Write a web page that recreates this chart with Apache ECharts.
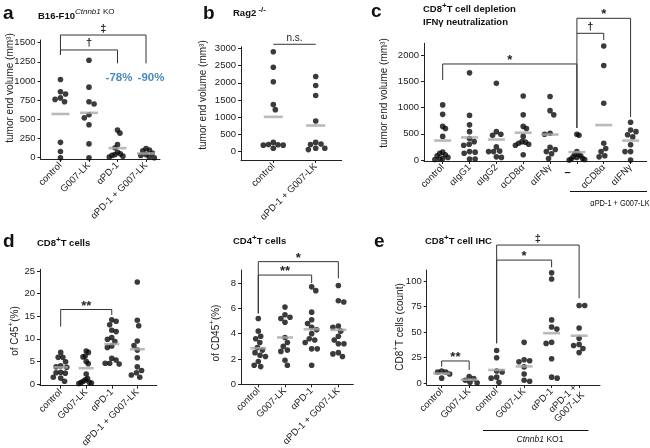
<!DOCTYPE html>
<html><head><meta charset="utf-8">
<script src="https://cdn.jsdelivr.net/npm/echarts@6/dist/echarts.min.js"></script>
<style>html,body{margin:0;padding:0;background:#fff}#c{width:650px;height:448px}</style>
</head><body><div id="c"></div>
<script>
// ================= DATA =================
// Panel a
const aCategories = ['control', 'G007-LK', 'αPD-1', 'αPD-1 + G007-LK'];
const aTicks = [0, 250, 500, 750, 1000, 1250, 1500];
const aControl = [1020, 860, 830, 780, 760, 730, 200, 80, 0];
const aG007 = [1270, 920, 730, 700, 560, 520, 430, 180, 0];
const aPD1 = [360, 320, 170, 130, 70, 50, 40, 30, 20, 10];
const aCombo = [120, 100, 90, 60, 40, 30, 10, 0];
const aMeans = [570, 585, 125, 55];
const aBrackets = [[0, 3, 1600, 1340, 1230], [0, 2, 1405, 1340, 1230]];
const aBracketLabels = ['‡', '†'];

// Panel b
const bCategories = ['control', 'αPD-1 + G007-LK'];
const bTicks = [0, 500, 1000, 1500, 2000, 2500, 3000];
const bControl = [2900, 2450, 2030, 1370, 1220, 270, 210, 200, 190, 190, 100];
const bCombo = [2180, 1920, 1630, 890, 270, 220, 210, 100, 100, 60];
const bMeans = [1010, 760];
const bBrackets = [[0, 1, 3116, 3116, 3116]];
const bBracketLabels = ['n.s.'];

// Panel c
const cCategories = ['control', 'αIgG1', 'αIgG2', 'αCD8α', 'αIFNγ', '–', 'αCD8α', 'αIFNγ'];
const cTicks = [0, 500, 1000, 1500, 2000];
const cControl = [1050, 870, 640, 600, 450, 150, 130, 100, 80, 50, 30, 20, 10];
const cIgG1 = [1660, 850, 670, 540, 410, 350, 300, 280, 160, 150, 130, 20, 20];
const cIgG2 = [1460, 540, 490, 470, 250, 170, 160, 160, 60, 50];
const cCD8 = [1220, 860, 640, 600, 450, 350, 340, 320, 300, 280, 100];
const cIFN = [1210, 940, 860, 510, 490, 240, 200, 160, 120, 30];
const cCombo = [490, 470, 160, 120, 100, 80, 60, 50, 30, 20, 10, 0];
const cComboCD8 = [2170, 1800, 1080, 320, 220, 160, 80, 60];
const cComboIFN = [720, 570, 540, 480, 440, 290, 160, 160, 0];
const cMeans = [370, 430, 390, 520, 485, 150, 665, 370];
const cBrackets = [[0, 5, 1829, 1524, 610], [5, 6, 2413, 2413, 2286], [5, 7, 2699, 610, 819]];
const cBracketLabels = ['*', '†', '*'];

// Panel d (CD8+)
const dCategories = ['control', 'G007-LK', 'αPD-1', 'αPD-1 + G007-LK'];
const dTicks = [0, 5, 10, 15, 20, 25];
const dControl = [7.0, 5.9, 5.9, 4.9, 4.0, 3.8, 3.7, 2.6, 2.5, 2.4, 1.5, 1.3, 0.6];
const dG007 = [7.3, 7.0, 6.2, 6.0, 5.0, 4.5, 2.2, 1.2, 0.9, 0.6, 0.4, 0.3, 0.2, 0.1];
const dPD1 = [14.2, 13.9, 13.1, 11.9, 11.6, 10.3, 9.9, 9.4, 8.4, 8.1, 5.7, 5.3, 4.6, 4.6, 4.4];
const dCombo = [22.6, 14.1, 12.9, 9.5, 8.5, 7.5, 5.8, 3.8, 3.0, 2.5, 2.0, 1.5];
const dMeans = [3.7, 3.5, 8.85, 7.7];
const dBrackets = [[0, 2, 16.5, 12.7, 15.3]];
const dBracketLabels = ['**'];

// Panel d (CD4+)
const d2Categories = ['control', 'G007-LK', 'αPD-1', 'αPD-1 + G007-LK'];
const d2Ticks = [0, 2, 4, 6, 8];
const d2Control = [5.2, 4.2, 3.8, 3.6, 3.3, 2.9, 2.7, 2.5, 2.3, 2.2, 1.8, 1.5, 1.4];
const d2G007 = [6.1, 5.5, 5.3, 5.2, 4.9, 3.7, 3.3, 3.0, 2.7, 2.6, 1.9, 1.5];
const d2PD1 = [7.7, 7.4, 5.7, 5.1, 4.8, 4.5, 4.3, 4.0, 3.6, 3.5, 3.3, 2.8, 2.8, 1.5];
const d2Combo = [7.8, 6.6, 6.5, 4.6, 4.5, 4.2, 3.8, 3.5, 3.2, 3.2, 2.5, 2.4, 2.2];
const d2Means = [2.85, 3.7, 4.35, 4.3];
const d2Brackets = [[0, 3, 9.69, 5.6, 8.37], [0, 2, 8.63, 5.6, 7.98]];
const d2BracketLabels = ['*', '**'];

// Panel e
const eCategories = ['control', 'G007-LK', 'control', 'G007-LK', 'αPD-1', 'αPD-1 +\nG007-LK'];
const eTicks = [0, 25, 50, 75, 100];
const eControl1 = [12, 11, 11, 9, 5];
const eG0071 = [6.5, 4.5, 3, 1, 0.5];
const eControl2 = [32, 25, 12, 11, 6, 5, 1];
const eG0072 = [40, 23, 22, 21, 16, 9, 3, 2];
const ePD1 = [108, 102, 62, 55, 53, 40, 39, 24, 5, 6];
const eCombo = [76, 76, 54, 44, 38, 37, 34, 30];
const eMeans = [9.5, 3.5, 13, 16.5, 49, 46.5];
const eBrackets = [[0, 1, 21.8, 16.2, 13], [2, 4, 120.5, 39.1, 113.4], [2, 5, 135.2, 39.1, 83.1]];
const eBracketLabels = ['**', '*', '‡'];

// ================= LAYOUT =================
const F = "'Liberation Sans', Arial, Helvetica, sans-serif";
const panels = [
  {cats: aCategories, groups: [aControl, aG007, aPD1, aCombo], means: aMeans, ticks: aTicks,
   br: aBrackets, brl: aBracketLabels, grid: {left: 40.5, top: 40, width: 119.5, height: 119},
   xr: [-0.70, 3.49], yr: [-17, 1535], mw: 18},
  {cats: bCategories, groups: [bControl, bCombo], means: bMeans, ticks: bTicks,
   br: bBrackets, brl: bBracketLabels, grid: {left: 241, top: 46.7, width: 100.7, height: 113.3},
   xr: [-0.762, 1.613], yr: [-241, 3046], mw: 19},
  {cats: cCategories, groups: [cControl, cIgG1, cIgG2, cCD8, cIFN, cCombo, cComboCD8, cComboIFN], means: cMeans, ticks: cTicks,
   br: cBrackets, brl: cBracketLabels, grid: {left: 424, top: 43.3, width: 222.7, height: 117.7},
   xr: [-0.696, 7.6], yr: [-19, 2223], mw: 17},
  {cats: dCategories, groups: [dControl, dG007, dPD1, dCombo], means: dMeans, ticks: dTicks,
   br: dBrackets, brl: dBracketLabels, grid: {left: 40, top: 269.3, width: 116.7, height: 116.4},
   xr: [-0.81, 3.76], yr: [-0.38, 25.4], mw: 15},
  {cats: d2Categories, groups: [d2Control, d2G007, d2PD1, d2Combo], means: d2Means, ticks: d2Ticks,
   br: d2Brackets, brl: d2BracketLabels, grid: {left: 241, top: 270, width: 112.3, height: 114.3},
   xr: [-0.648, 3.56], yr: [0, 9.03], mw: 16},
  {cats: eCategories, groups: [eControl1, eG0071, eControl2, eG0072, ePD1, eCombo], means: eMeans, ticks: eTicks,
   br: eBrackets, brl: eBracketLabels, grid: {left: 426.7, top: 270, width: 173.3, height: 115},
   xr: [-0.545, 5.76], yr: [-1.7, 110.8], mw: 17}
];

const AX = '#222';
const grids = [], xAxes = [], yAxes = [], series = [];
panels.forEach((p, k) => {
  grids.push(Object.assign({containLabel: false, outerBoundsMode: 'none'}, p.grid));
  const idx = p.cats.map((c, i) => i);
  xAxes.push({
    type: 'value', gridIndex: k, min: p.xr[0], max: p.xr[1],
    axisLine: {show: true, onZero: false, lineStyle: {color: AX, width: 1}},
    axisTick: {show: true, length: 3, customValues: idx, lineStyle: {color: AX, width: 1}},
    axisLabel: {show: true, customValues: idx, rotate: 45, margin: 5, fontSize: 9.5, fontFamily: F, color: '#222', lineHeight: 10.5,
      formatter: v => { const s = p.cats[Math.round(v)]; return s === '–' ? '' : s; }},
    splitLine: {show: false}
  });
  yAxes.push({
    type: 'value', gridIndex: k, min: p.yr[0], max: p.yr[1],
    axisLine: {show: true, onZero: false, lineStyle: {color: AX, width: 1}},
    axisTick: {show: true, length: 3, customValues: p.ticks, lineStyle: {color: AX, width: 1}},
    axisLabel: {show: true, customValues: p.ticks, margin: 5, fontSize: 9.5, fontFamily: F, color: '#222',
      formatter: v => String(v)},
    splitLine: {show: false}
  });
  const dots = [];
  p.groups.forEach((g, i) => g.forEach(v => dots.push({value: [i, v], symbolOffset: [0, 0]})));
  series.push({id: 'dots' + k, type: 'scatter', xAxisIndex: k, yAxisIndex: k, symbolSize: 5.6,
    itemStyle: {color: '#0a0a0a'}, data: dots, z: 3, silent: true});
  series.push({type: 'scatter', xAxisIndex: k, yAxisIndex: k, symbol: 'rect', symbolSize: [p.mw, 2.6],
    itemStyle: {color: '#a9a9a9'}, data: p.means.map((m, i) => [i, m]), z: 4, silent: true});
  series.push({type: 'custom', xAxisIndex: k, yAxisIndex: k, clip: false, silent: true, z: 5,
    data: p.br,
    renderItem: (params, api) => {
      const x1 = api.value(0), x2 = api.value(1), yt = api.value(2), yl = api.value(3), yr = api.value(4);
      const A = api.coord([x1, yl]), B = api.coord([x1, yt]), C = api.coord([x2, yt]), D = api.coord([x2, yr]);
      const lab = p.brl[params.dataIndex];
      const star = lab.indexOf('*') >= 0;
      const ns = lab === 'n.s.';
      return {type: 'group', children: [
        {type: 'polyline', shape: {points: [A, B, C, D]}, style: {stroke: '#333', lineWidth: 1, fill: null}},
        {type: 'text', x: (B[0] + C[0]) / 2, y: star ? B[1] + 3 : B[1] - 1,
         style: {text: lab, align: 'center', verticalAlign: 'bottom',
                 font: (ns ? '' : 'bold ') + (star ? 13 : ns ? 10 : 11) + 'px ' + F, fill: '#222'}}
      ]};
    }
  });
});

// ================= ANNOTATION TEXT =================
const sup = (fs) => ({font: fs + 'px ' + F, lineHeight: 8, verticalAlign: 'top'});
function rt(x, y, text, rich, extra) {
  return Object.assign({type: 'text', x: x, y: y, silent: true,
    style: {text: text, rich: rich, align: 'left', verticalAlign: 'middle', fill: '#111'}}, extra || {});
}
function letter(x, y, t) {
  return {type: 'text', x: x, y: y, silent: true, style: {text: t, font: 'bold 19px ' + F, fill: '#111', verticalAlign: 'middle'}};
}
const baseB = {font: 'bold 9.5px ' + F, lineHeight: 16};
const yNameRich = {n: {font: '10px ' + F, lineHeight: 16}, s: sup(8)};
function yName(x, y, text) {
  return {type: 'text', x: x, y: y, rotation: Math.PI / 2, silent: true,
    style: {text: text, rich: yNameRich, align: 'center', verticalAlign: 'middle', fill: '#222'}};
}
const graphics = [
  letter(3, 14, 'a'), letter(203, 13.4, 'b'), letter(371, 11.7, 'c'), letter(3, 241.7, 'd'), letter(374, 241.7, 'e'),
  rt(38, 16, '{b|B16-F10}{i|Ctnnb1}{s| KO}', {b: baseB, i: Object.assign(sup(8), {font: 'italic 8px ' + F}), s: sup(8)}),
  rt(233, 13.4, '{b|Rag2}{s| -/-}', {b: baseB, s: Object.assign(sup(8), {font: 'bold 8px ' + F})}),
  rt(423, 9.4, '{b|CD8}{s|+}{b|T cell depletion}', {b: baseB, s: Object.assign(sup(8), {font: 'bold 8px ' + F})}),
  rt(423, 22.7, '{b|IFNγ neutralization}', {b: baseB}),
  rt(37, 243.4, '{b|CD8}{s|+}{b|T cells}', {b: baseB, s: Object.assign(sup(8), {font: 'bold 8px ' + F})}),
  rt(233, 241.7, '{b|CD4}{s|+}{b|T cells}', {b: baseB, s: Object.assign(sup(8), {font: 'bold 8px ' + F})}),
  rt(425, 241.7, '{b|CD8}{s|+}{b|T cell IHC}', {b: baseB, s: Object.assign(sup(8), {font: 'bold 8px ' + F})}),
  yName(10, 88, '{n|tumor end volume (mm³)}'),
  yName(203, 95, '{n|tumor end volume (mm³)}'),
  yName(384, 93, '{n|tumor end volume (mm³)}'),
  yName(15, 331, '{n|of C45}{s|+}{n|(%)}'),
  yName(216, 333, '{n|of CD45}{s|+}{n|(%)}'),
  yName(400, 327, '{n|CD8}{s|+}{n|T cells (count)}'),
  {type: 'text', x: 119, y: 78, silent: true, style: {text: '-78%', font: 'bold 11.5px ' + F, fill: '#4a8bc0', align: 'center', verticalAlign: 'middle'}},
  {type: 'text', x: 151, y: 78, silent: true, style: {text: '-90%', font: 'bold 11.5px ' + F, fill: '#4a8bc0', align: 'center', verticalAlign: 'middle'}},
  {type: 'text', x: 567.5, y: 172.5, silent: true, style: {text: '–', font: 'bold 11px ' + F, fill: '#111', align: 'center', verticalAlign: 'middle'}},
  {type: 'line', silent: true, shape: {x1: 570, y1: 191.5, x2: 647, y2: 191.5}, style: {stroke: '#111', lineWidth: 1.2}},
  {type: 'text', x: 620, y: 203.5, scaleX: 0.78, silent: true, style: {text: 'αPD-1 + G007-LK', font: '9.5px ' + F, fill: '#111', align: 'center', verticalAlign: 'middle'}},
  {type: 'line', silent: true, shape: {x1: 483, y1: 430.5, x2: 588.5, y2: 430.5}, style: {stroke: '#111', lineWidth: 1.2}},
  {type: 'text', x: 540, y: 439.5, scaleX: 0.9, silent: true, style: {text: '{i|Ctnnb1}{n| KO1}', align: 'center', verticalAlign: 'middle', fill: '#111',
    rich: {i: {font: 'italic 9.5px ' + F}, n: {font: '9.5px ' + F}}}}
];

const chart = echarts.init(document.getElementById('c'), null, {renderer: 'canvas'});
chart.setOption({
  animation: false, backgroundColor: '#fff',
  grid: grids, xAxis: xAxes, yAxis: yAxes, series: series, graphic: graphics
});

// ===== beeswarm offsets in pixel space (via the chart's own scales) =====
function swarm(pys, d, limit) {
  const order = pys.map((y, i) => i).sort((i, j) => pys[i] - pys[j]);
  const placed = [], off = new Array(pys.length).fill(0);
  let bal = 0;
  for (const i of order) {
    const y = pys[i];
    const cands = [0];
    for (const q of placed) {
      const dy = Math.abs(q.y - y);
      if (dy < d) { const w = Math.sqrt(d * d - dy * dy); cands.push(q.x + w, q.x - w); }
    }
    cands.sort((u, v) => (Math.abs(u) - Math.abs(v)) || (bal > 0 ? u - v : v - u));
    let chosen = 0;
    for (const c of cands) {
      if (placed.every(q => (q.x - c) * (q.x - c) + (q.y - y) * (q.y - y) >= d * d - 1e-6)) { chosen = c; break; }
    }
    off[i] = chosen; placed.push({x: chosen, y: y}); bal += Math.sign(chosen);
  }
  const m = Math.max.apply(null, off.map(Math.abs));
  if (m > limit) { for (let i = 0; i < off.length; i++) off[i] *= limit / m; }
  return off;
}
const upd = [];
panels.forEach((p, k) => {
  const dots = [];
  const step = chart.convertToPixel({gridIndex: k}, [1, 0])[0] - chart.convertToPixel({gridIndex: k}, [0, 0])[0];
  const limit = Math.min(10, step * 0.29);
  p.groups.forEach((g, i) => {
    const pys = g.map(v => chart.convertToPixel({gridIndex: k}, [i, v])[1]);
    const off = swarm(pys, 5.6, limit);
    g.forEach((v, j) => dots.push({value: [i, v], symbolOffset: [off[j], 0]}));
  });
  upd.push({id: 'dots' + k, data: dots});
});
chart.setOption({series: upd});
</script></body></html>
